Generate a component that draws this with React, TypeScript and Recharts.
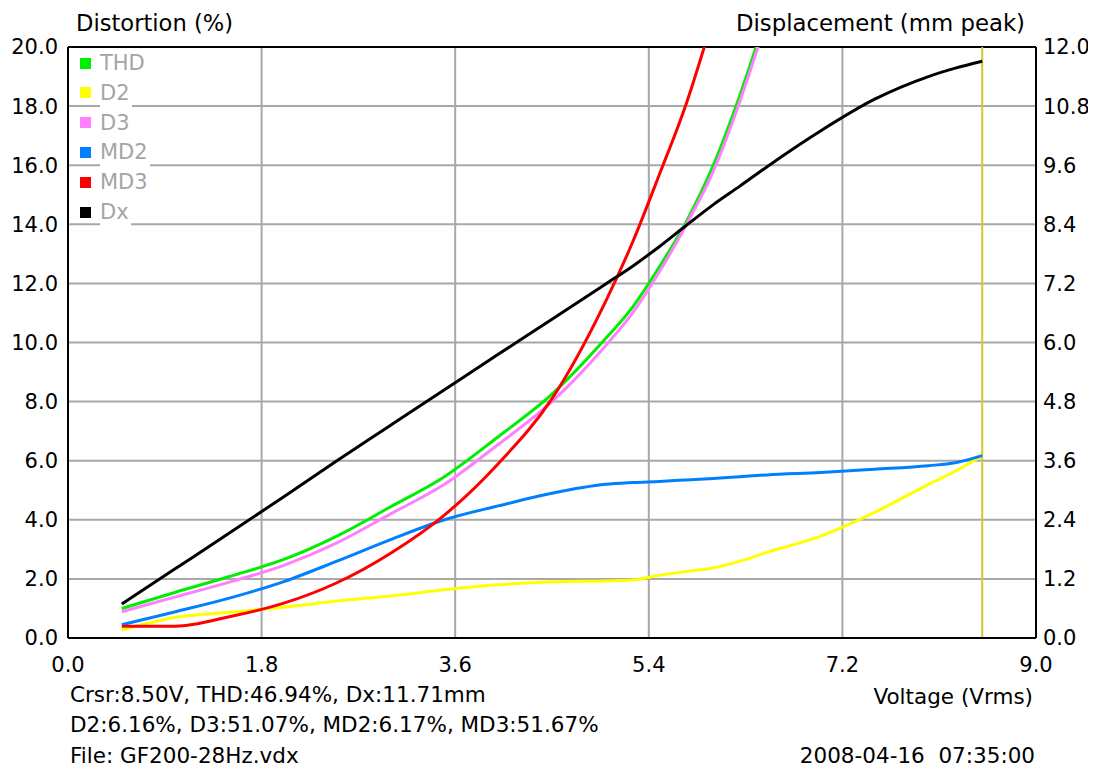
import React from "react";
import { LineChart, Line, XAxis, YAxis, CartesianGrid, ReferenceLine } from "recharts";

const voltage = [0.5, 1.0, 1.5, 2.0, 2.5, 3.0, 3.5, 4.0, 4.5, 5.0, 5.25, 5.5, 5.75, 6.0, 6.25, 6.5, 7.0, 7.5, 8.0, 8.25, 8.5];
const thd = [1.0, 1.55, 2.08, 2.65, 3.45, 4.44, 5.46, 6.81, 8.25, 10.14, 11.2, 12.57, 14.1, 16.0, 18.4, 21.2, 28, 33, 40, 43.5, 46.94];
const d2 = [0.27, 0.7, 0.87, 1.04, 1.25, 1.42, 1.63, 1.8, 1.9, 1.93, 1.96, 2.12, 2.25, 2.37, 2.6, 2.9, 3.45, 4.25, 5.2, 5.65, 6.16];
const d3 = [0.89, 1.39, 1.89, 2.45, 3.22, 4.2, 5.2, 6.55, 8.0, 9.9, 11.0, 12.4, 14.0, 15.8, 18.2, 21.0, 28, 34, 42, 46, 51.07];
const md2 = [0.45, 0.89, 1.35, 1.9, 2.6, 3.33, 4.0, 4.47, 4.9, 5.2, 5.26, 5.3, 5.35, 5.4, 5.46, 5.52, 5.6, 5.71, 5.83, 5.93, 6.17];
const md3 = [0.4, 0.4, 0.72, 1.17, 1.87, 2.87, 4.16, 5.9, 8.1, 11.4, 13.4, 15.7, 18.1, 21.0, 24.0, 27.5, 34, 40, 46, 49, 51.67];
const dx = [0.69, 1.41, 2.13, 2.86, 3.6, 4.32, 5.04, 5.76, 6.47, 7.19, 7.55, 7.95, 8.38, 8.8, 9.18, 9.57, 10.3, 10.94, 11.4, 11.57, 11.71];

const xTicks = [0, 1.8, 3.6, 5.4, 7.2, 9.0];
const leftTicks = [0, 2, 4, 6, 8, 10, 12, 14, 16, 18, 20];
const rightTicks = [0, 1.2, 2.4, 3.6, 4.8, 6.0, 7.2, 8.4, 9.6, 10.8, 12.0];
const cursorV = 8.5;

const seriesNames = ["THD", "D2", "D3", "MD2", "MD3", "Dx"];
const seriesColors = ["#00ee00", "#ffff00", "#ff80ff", "#0080ff", "#ff0000", "#000000"];

const infoLine1 = "Crsr:8.50V, THD:46.94%, Dx:11.71mm";
const infoLine2 = "D2:6.16%, D3:51.07%, MD2:6.17%, MD3:51.67%";
const infoLine3 = "File: GF200-28Hz.vdx";
const dateText = "2008-04-16  07:35:00";

const data = voltage.map((v, i) => ({
  v,
  THD: thd[i],
  D2: d2[i],
  D3: d3[i],
  MD2: md2[i],
  MD3: md3[i],
  Dx: dx[i],
}));

const FONT = "'DejaVu Sans', sans-serif";

const txt = (style: React.CSSProperties): React.CSSProperties => ({
  position: "absolute",
  fontFamily: FONT,
  fontSize: 21.5,
  lineHeight: "24px",
  color: "#000",
  whiteSpace: "pre",
  ...style,
});

export default function App() {
  const fmt = (n: number) => n.toFixed(1);
  return (
    <div style={{ position: "relative", width: 1088, height: 761, background: "#fff" }}>
      <LineChart
        width={1088}
        height={761}
        data={data}
        margin={{ top: 39, right: 0, bottom: 101, left: 0 }}
      >
        <CartesianGrid stroke="#a8a8a8" strokeWidth={2} yAxisId="left" />
        <XAxis
          dataKey="v"
          type="number"
          domain={[0, 9]}
          ticks={xTicks}
          tickFormatter={fmt}
          height={30}
          tickSize={0}
          tickMargin={19}
          tick={{ fill: "#000", fontSize: 21, fontFamily: FONT }}
          axisLine={{ stroke: "#000", strokeWidth: 2 }}
          tickLine={false}
          interval={0}
        />
        <YAxis
          yAxisId="left"
          orientation="left"
          domain={[0, 20]}
          ticks={leftTicks}
          allowDataOverflow
          tickFormatter={fmt}
          width={60}
          tickSize={0}
          tickMargin={10}
          tick={{ fill: "#000", fontSize: 21, fontFamily: FONT }}
          axisLine={{ stroke: "#000", strokeWidth: 2 }}
          tickLine={false}
          interval={0}
        />
        <YAxis
          yAxisId="right"
          orientation="right"
          domain={[0, 12]}
          ticks={rightTicks}
          allowDataOverflow
          tickFormatter={fmt}
          width={60}
          tickSize={0}
          tickMargin={7}
          tick={{ fill: "#000", fontSize: 21, fontFamily: FONT }}
          axisLine={{ stroke: "#000", strokeWidth: 2 }}
          tickLine={false}
          interval={0}
        />
        <ReferenceLine yAxisId="left" y={20} stroke="#000" strokeWidth={2} />
        <ReferenceLine yAxisId="left" x={cursorV} stroke="#d2c82a" strokeWidth={2} />
        {seriesNames.map((name, i) => (
          <Line
            key={name}
            yAxisId={name === "Dx" ? "right" : "left"}
            dataKey={name}
            type="monotone"
            stroke={seriesColors[i]}
            strokeWidth={3}
            dot={false}
            activeDot={false}
            isAnimationActive={false}
          />
        ))}
      </LineChart>

      <div style={txt({ left: 68, top: 2, fontSize: 22.6, lineHeight: "26px" })}>Distortion (%)</div>
      <div style={txt({ right: 71, top: 2, fontSize: 22.8, lineHeight: "26px" })}>Displacement (mm peak)</div>

      {seriesNames.map((name, i) => (
        <div
          key={name}
          style={{
            position: "absolute",
            left: 72,
            top: 40 + i * 29.8,
            height: 30,
            display: "flex",
            alignItems: "center",
          }}
        >
          <div style={{ width: 11, height: 11, background: seriesColors[i], marginRight: 9 }} />
          <div
            style={{
              background: "#fff",
              fontFamily: FONT,
              fontSize: 21,
              lineHeight: "30px",
              color: "#a4a4a4",
              paddingRight: 2,
            }}
          >
            {name}
          </div>
        </div>
      ))}

      <div style={txt({ left: 62, top: 675 })}>{infoLine1}</div>
      <div style={txt({ left: 62, top: 705 })}>{infoLine2}</div>
      <div style={txt({ left: 62, top: 736 })}>{infoLine3}</div>
      <div style={txt({ right: 63, top: 677 })}>Voltage (Vrms)</div>
      <div style={txt({ right: 61, top: 736 })}>{dateText}</div>
    </div>
  );
}
